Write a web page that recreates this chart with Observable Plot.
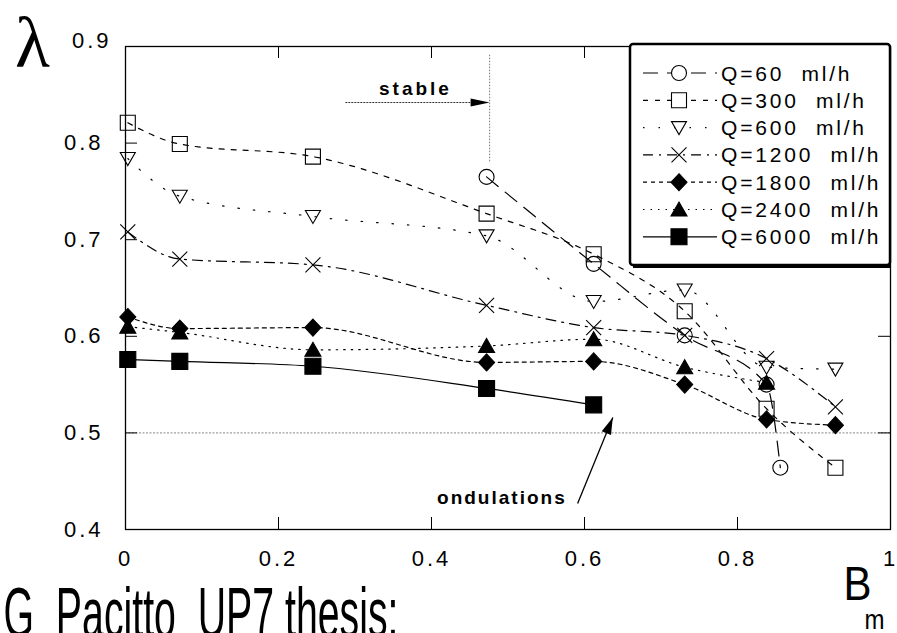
<!DOCTYPE html>
<html><head><meta charset="utf-8">
<script src="https://cdn.jsdelivr.net/npm/d3@7"></script>
<script src="https://cdn.jsdelivr.net/npm/@observablehq/plot@0.6"></script>
<style>
html,body{margin:0;padding:0;background:#fff;overflow:hidden;}
#wrap{position:relative;width:897px;height:633px;overflow:hidden;}
#legend{position:absolute;left:0;top:0;pointer-events:none;}
</style></head><body><div id="wrap"></div>
<script>
// ---- data ----
const seriesNames = ["Q=60  ml/h","Q=300  ml/h","Q=600  ml/h","Q=1200  ml/h","Q=1800  ml/h","Q=2400  ml/h","Q=6000  ml/h"];
const B_Q60   = [0.472, 0.612, 0.731, 0.838, 0.856];
const L_Q60   = [0.765, 0.675, 0.601, 0.550, 0.464];
const B_main  = [0.003, 0.071, 0.245, 0.472, 0.612, 0.731, 0.838, 0.928];
const L_Q300  = [0.821, 0.799, 0.786, 0.727, 0.685, 0.626, 0.525, 0.464];
const L_Q600  = [0.784, 0.745, 0.724, 0.704, 0.636, 0.648, 0.568, 0.566];
const L_Q1200 = [0.708, 0.680, 0.674, 0.632, 0.609, 0.601, 0.577, 0.527];
const L_Q1800 = [0.620, 0.608, 0.609, 0.573, 0.574, 0.550, 0.514, 0.508];
const L_Q2400 = [0.610, 0.604, 0.586, 0.590, 0.597, 0.568, 0.552];
const L_Q6000 = [0.576, 0.574, 0.569, 0.546, 0.529];
const xTicks = [0, 0.2, 0.4, 0.6, 0.8, 1];
const yTicks = [0.4, 0.5, 0.6, 0.7, 0.8, 0.9];
const gridY = [0.5];
// annotation anchors (data units)
const stableLabel = [{B: 0.379, L: 0.856, t: "stable"}];
const stableArrow = [{B1: 0.288, B2: 0.470, L: 0.842}];
const stableVLine = [{B: 0.476, L1: 0.891, L2: 0.779}];
const ondLabel = [{B: 0.492, L: 0.433, t: "ondulations"}];
const ondArrow = [{B1: 0.591, L1: 0.427, B2: 0.637, L2: 0.516}];

// ---- layout ----
const W = 897, H = 633, mL = 125, mR = 7, mT = 46, mB = 104;
const pxX = (W - mL - mR), pxY = (H - mT - mB);
const tLx = 12 / pxX, tLy = 12 * 0.5 / pxY;
const fmt = d => String(d);

// ---- symbols ----
const sym = {
  circle:  {draw(c){ c.moveTo(7.5,0); c.arc(0,0,7.5,0,2*Math.PI); }},
  square:  {draw(c){ c.rect(-7.5,-7.5,15,15); }},
  triDown: {draw(c){ c.moveTo(-7.5,-6); c.lineTo(7.5,-6); c.lineTo(0,7); c.closePath(); }},
  times:   {draw(c){ c.moveTo(-7.5,-7.5); c.lineTo(7.5,7.5); c.moveTo(7.5,-7.5); c.lineTo(-7.5,7.5); }},
  diamond: {draw(c){ c.moveTo(0,-8.5); c.lineTo(8,0); c.lineTo(0,8.5); c.lineTo(-8,0); c.closePath(); }},
  triUp:   {draw(c){ c.moveTo(0,-7.5); c.lineTo(8,6.5); c.lineTo(-8,6.5); c.closePath(); }},
  squareF: {draw(c){ c.rect(-8,-8,16,16); }},
  headS:   {draw(c){ c.moveTo(0,0); c.lineTo(4,19); c.lineTo(-4,19); c.closePath(); }},
  headO:   {draw(c){ c.moveTo(0,0); c.lineTo(5,17); c.lineTo(-5,17); c.closePath(); }}
};

const series = [
  {name: seriesNames[0], B: B_Q60,  L: L_Q60,   symbol: sym.circle,  filled: false, dash: "15,9"},
  {name: seriesNames[1], B: B_main, L: L_Q300,  symbol: sym.square,  filled: false, dash: "5,7"},
  {name: seriesNames[2], B: B_main, L: L_Q600,  symbol: sym.triDown, filled: false, dash: "1.5,14"},
  {name: seriesNames[3], B: B_main, L: L_Q1200, symbol: sym.times,   filled: false, dash: "10,6,2,6"},
  {name: seriesNames[4], B: B_main, L: L_Q1800, symbol: sym.diamond, filled: true,  dash: "4,4"},
  {name: seriesNames[5], B: B_main, L: L_Q2400, symbol: sym.triUp,   filled: true,  dash: "1.5,6"},
  {name: seriesNames[6], B: B_main, L: L_Q6000, symbol: sym.squareF, filled: true,  dash: null}
];
series.forEach(s => s.rows = s.L.map((v, i) => ({B: s.B[i], L: v})));

const seriesMarks = series.flatMap(s => [
  Plot.line(s.rows, {x: "B", y: "L", curve: "monotone-x", stroke: "black", strokeWidth: 1.2,
    strokeDasharray: s.dash || undefined}),
  Plot.dot(s.rows, {x: "B", y: "L", symbol: s.symbol, r: 7, fill: s.filled ? "black" : "white",
    fillOpacity: s.filled ? 1 : 0, stroke: "black", strokeWidth: 1.1})
]);

// pixel angle for the ondulations arrow
const oa = ondArrow[0];
const ondAngle = Math.atan2((oa.B2 - oa.B1) * pxX, (oa.L2 - oa.L1) * pxY / 0.5) * 180 / Math.PI;

const chart = Plot.plot({
  width: W, height: H, marginLeft: mL, marginRight: mR, marginTop: mT, marginBottom: mB,
  x: {domain: [0, 1]}, y: {domain: [0.4, 0.9]},
  style: {fontFamily: "'Liberation Sans', Arial, Helvetica, sans-serif", background: "white", color: "black"},
  marks: [
    Plot.ruleY(gridY, {stroke: "#777", strokeWidth: 0.9, strokeDasharray: "2,1.5"}),
    // inward ticks
    Plot.ruleX(xTicks.slice(1, -1), {y1: 0.4, y2: 0.4 + tLy, stroke: "black", strokeWidth: 1}),
    Plot.ruleX(xTicks.slice(1, -1), {y1: 0.9, y2: 0.9 - tLy, stroke: "black", strokeWidth: 1}),
    Plot.ruleY(yTicks.slice(1, -1), {x1: 0, x2: tLx, stroke: "black", strokeWidth: 1}),
    Plot.ruleY(yTicks.slice(1, -1), {x1: 1 - tLx, x2: 1, stroke: "black", strokeWidth: 1}),
    Plot.axisX({ticks: xTicks, tickSize: 0, tickPadding: 21, fontSize: 22, label: null, tickFormat: fmt}),
    Plot.axisY({ticks: yTicks.slice(0, -1), tickSize: 0, tickPadding: 22, fontSize: 22, label: null, tickFormat: fmt}),
    Plot.text(yTicks.slice(-1), {x: 0, y: d => d, text: fmt, dx: -14, dy: -6, fontSize: 22, textAnchor: "end"}),
    // annotations
    Plot.ruleY(stableArrow, {y: "L", x1: "B1", x2: "B2", stroke: "#333", strokeWidth: 1, strokeDasharray: "2,1"}),
    Plot.dot(stableArrow, {x: (d) => stableVLine[0].B, y: "L", symbol: sym.headS, r: 5, fill: "black", stroke: "none", rotate: 90}),
    Plot.ruleX(stableVLine, {x: "B", y1: "L1", y2: "L2", stroke: "#555", strokeWidth: 0.8, strokeDasharray: "1.5,1.5"}),
    Plot.text(stableLabel, {x: "B", y: "L", text: "t", fontSize: 19, fontWeight: "bold", textAnchor: "middle"}),
    Plot.link(ondArrow, {x1: "B1", y1: "L1", x2: "B2", y2: "L2", stroke: "black", strokeWidth: 1.3}),
    Plot.dot(ondArrow, {x: "B2", y: "L2", symbol: sym.headO, r: 5, fill: "black", stroke: "none", rotate: ondAngle}),
    Plot.text(ondLabel, {x: "B", y: "L", text: "t", fontSize: 19, fontWeight: "bold", textAnchor: "middle"}),
    ...seriesMarks,
    Plot.frame({stroke: "black", strokeWidth: 1.3}),
    // outer labels
    Plot.text(["λ"], {frameAnchor: "top-left", dx: -93, dy: -3, fontSize: 72, fontFamily: "'Liberation Serif', 'DejaVu Serif', serif", textAnchor: "middle", lineAnchor: "middle"}),
    Plot.text(["B"], {frameAnchor: "bottom-right", dx: -33, dy: 70, fontSize: 48, textAnchor: "middle", lineAnchor: "bottom"}),
    Plot.text(["m"], {frameAnchor: "bottom-right", dx: -16, dy: 99, fontSize: 27, textAnchor: "middle", lineAnchor: "bottom"}),
    Plot.text(["G  Pacitto  UP7 thesis:"], {frameAnchor: "bottom-left", dx: -122, dy: 107, fontSize: 70, textAnchor: "start", lineAnchor: "bottom"})
  ]
});

document.getElementById("wrap").appendChild(chart);
const svg = d3.select(chart);
svg.selectAll('[aria-label="x-axis tick label"] text, [aria-label="y-axis tick label"] text').style("letter-spacing", "3px");
svg.selectAll('[aria-label="text"] text').each(function() {
  const t = d3.select(this), s = t.text();
  if (s === "0.9") t.style("letter-spacing", "3px");
  if (s === "stable") t.style("letter-spacing", "3px");
  if (s === "ondulations") t.style("letter-spacing", "2px");
  if (s.startsWith("G ")) t.attr("textLength", 395).attr("lengthAdjust", "spacingAndGlyphs").style("white-space", "pre");
  if (s === "B") t.attr("textLength", 28).attr("lengthAdjust", "spacingAndGlyphs");
  if (s === "m") t.attr("textLength", 20).attr("lengthAdjust", "spacingAndGlyphs");
});

// ---- legend (drawn with d3 from the same series list) ----
const lg = d3.select("#wrap").append("svg").attr("id", "legend").attr("width", W).attr("height", H);
const box = {x0: 630, y0: 44, x1: 890, y1: 265};
lg.append("rect").attr("x", box.x0).attr("y", box.y0).attr("width", box.x1 - box.x0).attr("height", box.y1 - box.y0)
  .attr("rx", 3).attr("fill", "white").attr("stroke", "black").attr("stroke-width", 2.5);
lg.append("line").attr("x1", box.x0 + 3).attr("x2", box.x1).attr("y1", box.y1 + 1.5).attr("y2", box.y1 + 1.5)
  .attr("stroke", "black").attr("stroke-width", 3);
const rowY = i => 73 + i * 27.3;
series.forEach((s, i) => {
  const y = rowY(i);
  const g = lg.append("g");
  g.append("line").attr("x1", 643).attr("x2", 717).attr("y1", y).attr("y2", y)
    .attr("stroke", "black").attr("stroke-width", 1.2).attr("stroke-dasharray", s.dash);
  const p = d3.path(); s.symbol.draw(p);
  g.append("path").attr("d", p.toString()).attr("transform", `translate(679,${y})`)
    .attr("fill", s.filled ? "black" : "white").attr("stroke", "black").attr("stroke-width", 1.1);
  g.append("text").attr("x", 721).attr("y", y + 7.5).text(s.name)
    .style("font-family", "'Liberation Sans', Arial, sans-serif").style("font-size", "21px")
    .style("letter-spacing", "2.8px").style("white-space", "pre");
});
</script></body></html>
